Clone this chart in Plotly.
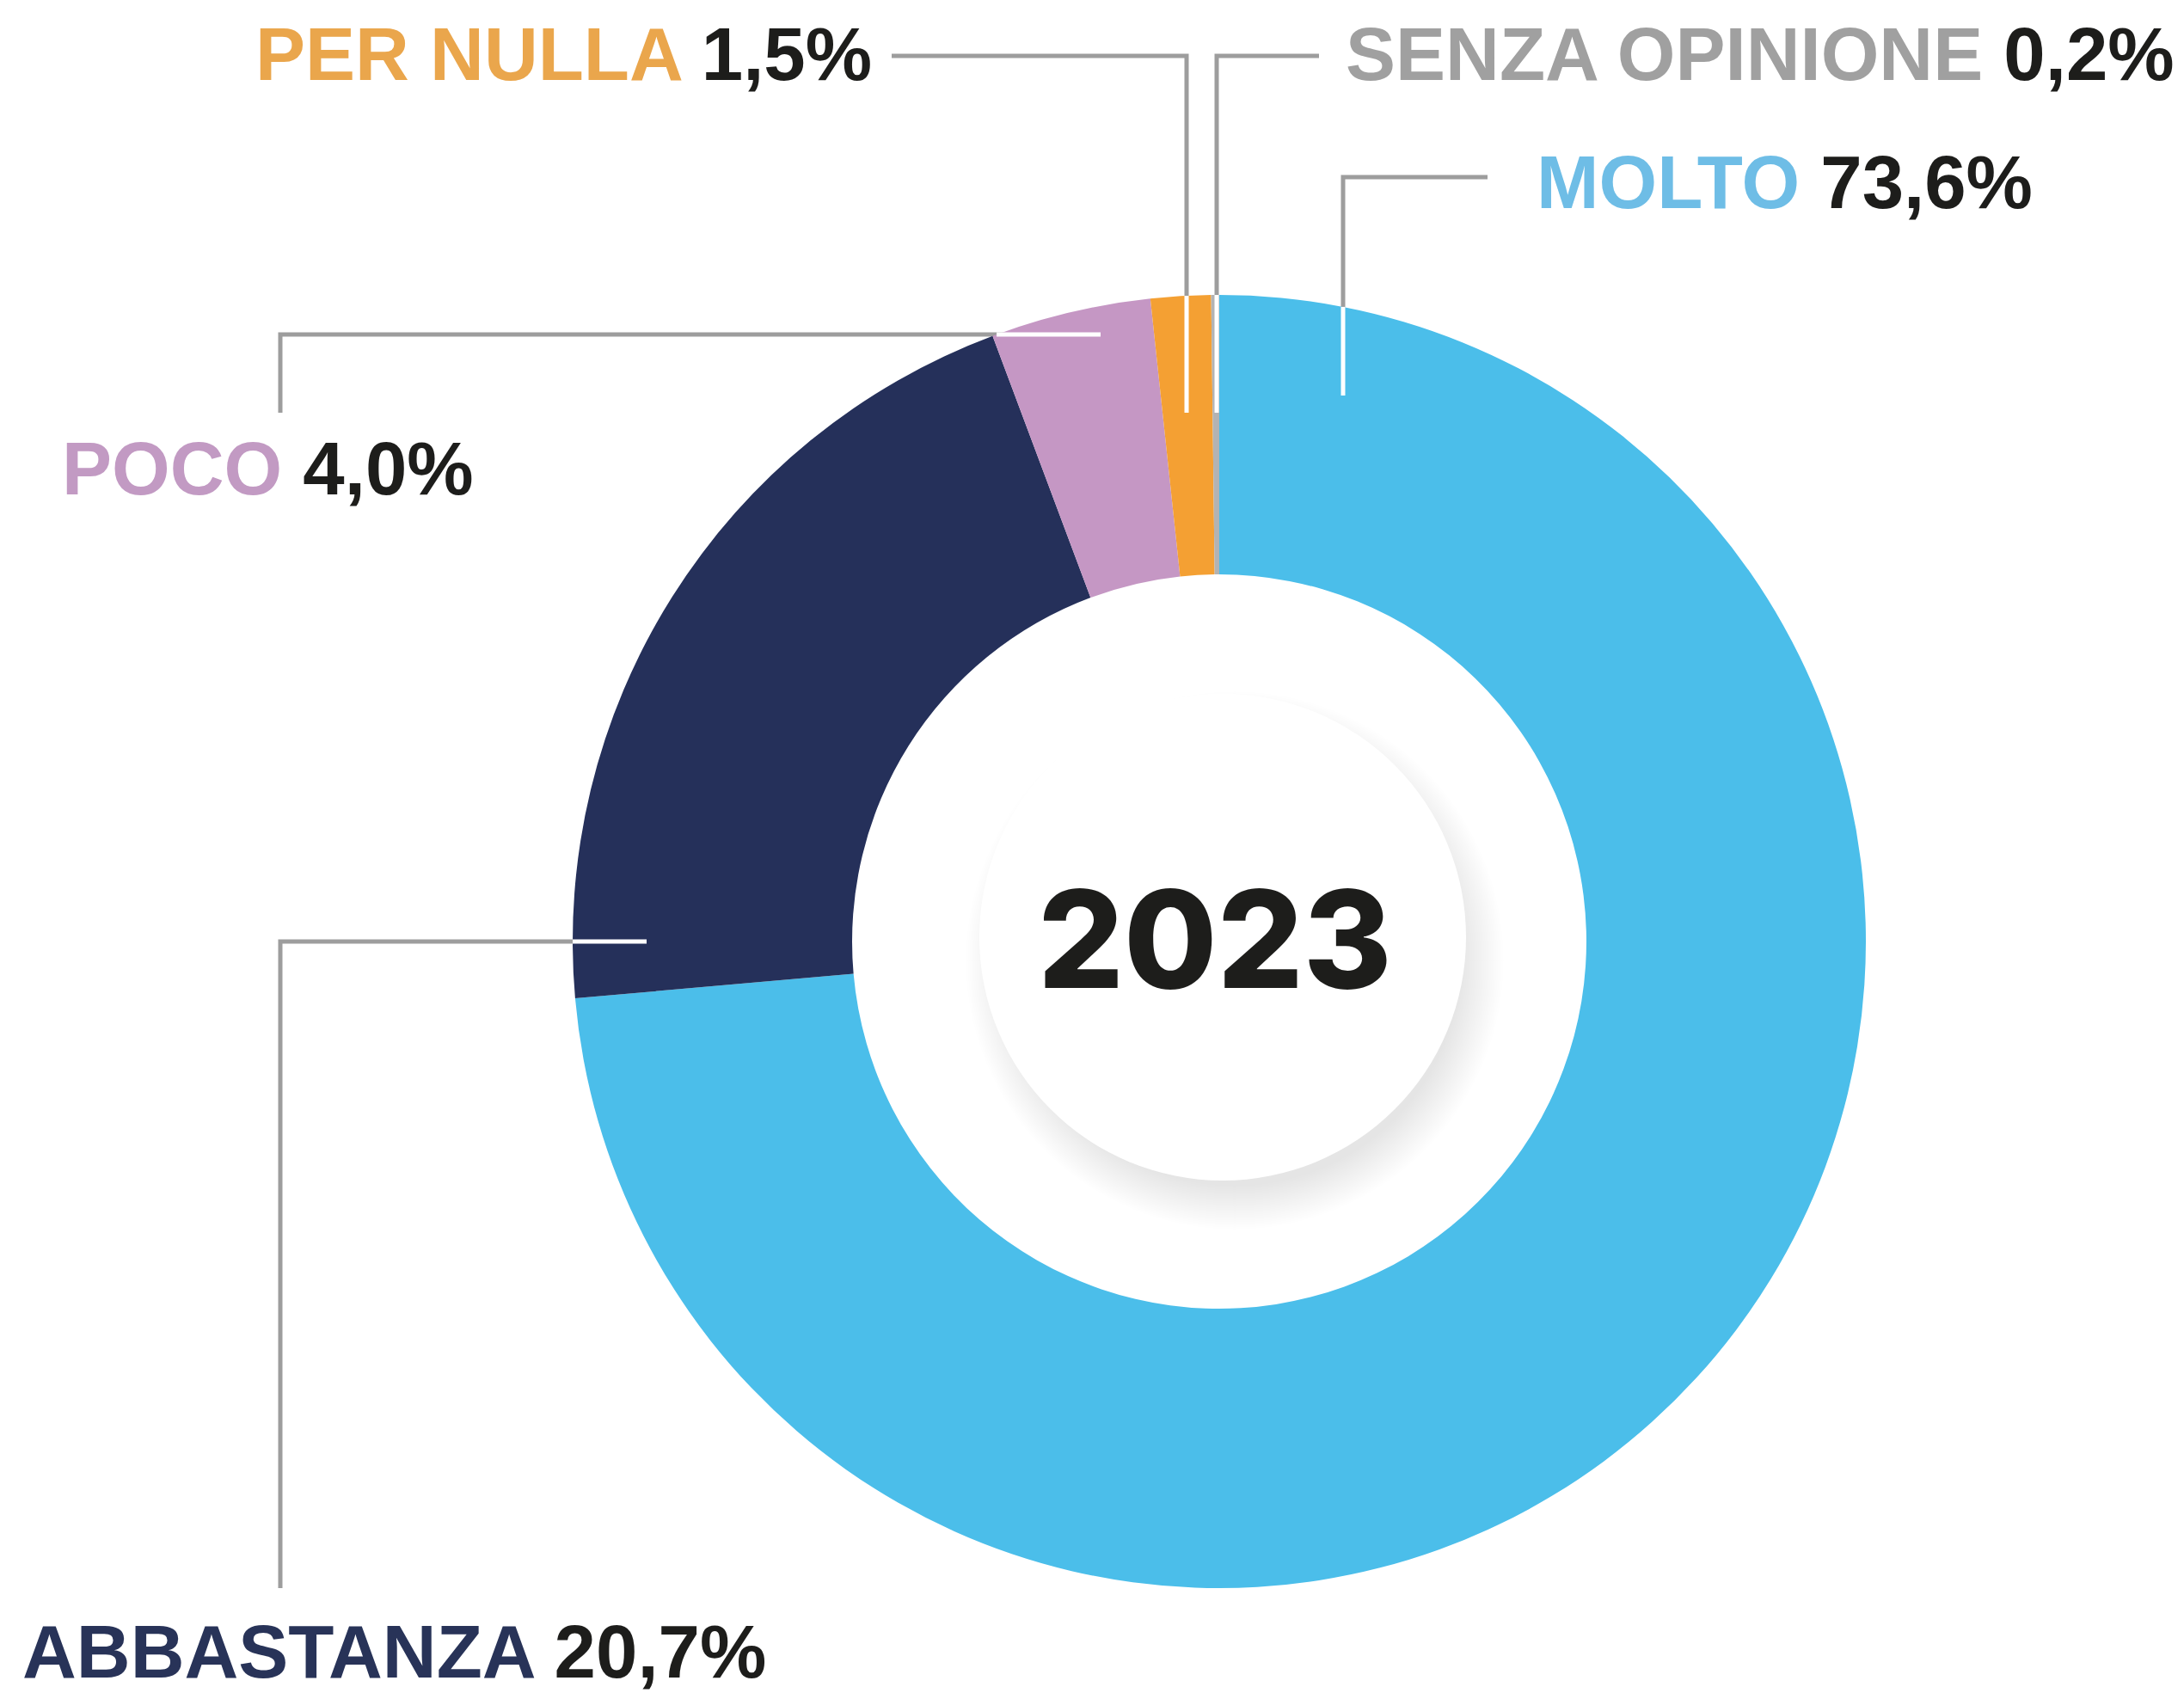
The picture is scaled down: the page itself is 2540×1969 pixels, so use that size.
import math

import plotly.graph_objects as go

W, H = 2540, 1969

categories = ["MOLTO", "ABBASTANZA", "POCO", "PER NULLA", "SENZA OPINIONE"]
values = [73.6, 20.7, 4.0, 1.5, 0.2]
year = "2023"

slice_colors = ["#4bbeea", "#25305a", "#c597c4", "#f4a033", "#b3b3b3"]
label_colors = ["#6ebde6", "#283358", "#c29ac3", "#eaa64c", "#a0a0a0"]

# donut geometry in pixels
CX, CY, R_OUT, R_IN = 1418, 1095, 752, 427
DISC_R = 283
LINE_GREY = "#9d9d9d"
LABEL_FONT = "Liberation Sans"

# label anchor (x, y, xanchor) and leader polyline, pixels
label_pos = {
    "MOLTO": (1785, 212, "left"),
    "ABBASTANZA": (24, 1920, "left"),
    "POCO": (70, 544, "left"),
    "PER NULLA": (1016, 63, "right"),
    "SENZA OPINIONE": (1563, 63, "left"),
}
leaders = {
    "MOLTO": [(1730, 206), (1562, 206), (1562, 460)],
    "ABBASTANZA": [(326, 1847), (326, 1095), (752, 1095)],
    "POCO": [(326, 480), (326, 389), (1280, 389)],
    "PER NULLA": [(1037, 65), (1380, 65), (1380, 480)],
    "SENZA OPINIONE": [(1534, 65), (1415, 65), (1415, 480)],
}


def px(x):
    return x / W


def py(y):
    return 1 - y / H


def edge_point(p0, p1):
    # where the segment p0->p1 enters the outer ring
    dx, dy = p1[0] - p0[0], p1[1] - p0[1]
    fx, fy = p0[0] - CX, p0[1] - CY
    a = dx * dx + dy * dy
    b = 2 * (fx * dx + fy * dy)
    c = fx * fx + fy * fy - R_OUT * R_OUT
    t = (-b - math.sqrt(b * b - 4 * a * c)) / (2 * a)
    return (p0[0] + t * dx, p0[1] + t * dy)


fig = go.Figure()
fig.add_pie(
    labels=categories,
    values=values,
    marker={"colors": slice_colors, "line": {"width": 0}},
    hole=R_IN / R_OUT,
    sort=False,
    direction="clockwise",
    rotation=0,
    textinfo="none",
    hovertemplate="%{label}: %{value}%<extra></extra>",
    domain={
        "x": [px(CX - R_OUT), px(CX + R_OUT)],
        "y": [py(CY + R_OUT), py(CY - R_OUT)],
    },
)

shapes = []
# soft shadow under the centre disc, cast to the lower right
sx, sy = CX + 18, CY + 22
for i in range(26):
    r = DISC_R - 20 + 2.0 * i
    shapes.append(
        dict(
            type="circle", xref="paper", yref="paper", layer="below",
            x0=px(sx - r), x1=px(sx + r), y0=py(sy + r), y1=py(sy - r),
            fillcolor="rgba(0,0,0,0.004)", line={"width": 0},
        )
    )
shapes.append(
    dict(
        type="circle", xref="paper", yref="paper", layer="below",
        x0=px(CX + 4 - DISC_R), x1=px(CX + 4 + DISC_R),
        y0=py(CY - 5 + DISC_R), y1=py(CY - 5 - DISC_R),
        fillcolor="white", line={"width": 0},
    )
)

for cat, pts in leaders.items():
    path = "M" + " L".join(f"{px(x)},{py(y)}" for x, y in pts)
    shapes.append(
        dict(type="path", path=path, xref="paper", yref="paper", layer="below",
             line={"color": LINE_GREY, "width": 5})
    )
    e = edge_point(pts[-2], pts[-1])
    shapes.append(
        dict(type="line", xref="paper", yref="paper", layer="above",
             x0=px(e[0]), y0=py(e[1]), x1=px(pts[-1][0]), y1=py(pts[-1][1]),
             line={"color": "white", "width": 5})
    )

annotations = []
for cat, val, col in zip(categories, values, label_colors):
    x, y, anchor = label_pos[cat]
    num = f"{val:.1f}".replace(".", ",")
    annotations.append(
        dict(
            x=px(x), y=py(y), xref="paper", yref="paper",
            xanchor=anchor, yanchor="middle", showarrow=False,
            text=f"<span style='color:{col}'>{cat}</span> {num}%",
            font={"family": LABEL_FONT, "size": 87, "color": "#1d1d1b", "weight": 700},
        )
    )
annotations.append(
    dict(
        x=px(1413), y=py(1092), xref="paper", yref="paper",
        xanchor="center", yanchor="middle", showarrow=False, text=year,
        font={"family": "Inter", "size": 157, "color": "#1d1d1b", "weight": 800},
    )
)

fig.update_layout(
    width=W,
    height=H,
    margin={"l": 0, "r": 0, "t": 0, "b": 0},
    paper_bgcolor="white",
    plot_bgcolor="white",
    showlegend=False,
    shapes=shapes,
    annotations=annotations,
)

# drop the page's default body margin so the figure sits at 0,0
fig.write_html(
    "out.html",
    config={"displayModeBar": False},
    post_script="document.body.style.margin='0px';",
)
